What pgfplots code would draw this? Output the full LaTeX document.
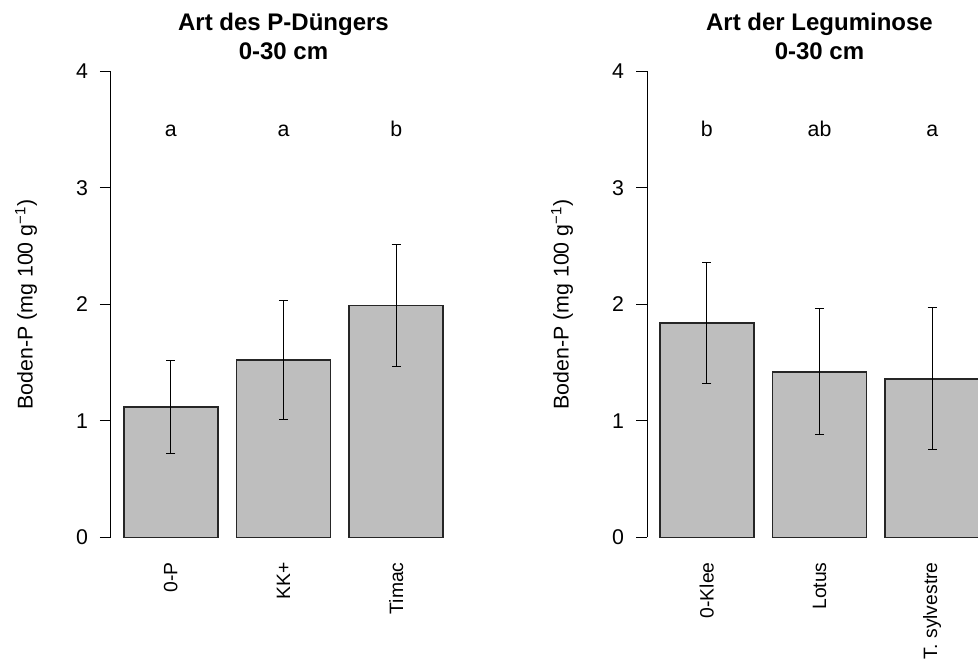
\documentclass[border=0pt]{standalone}
\usepackage{pgfplots}
\pgfplotsset{compat=1.18}
\usepackage{fontspec}
\setmainfont{Liberation Sans}
\definecolor{bargray}{RGB}{190,190,190}
\newcommand\lab{\fontsize{12.8}{15}\selectfont}

% one R-like barplot panel
\pgfplotsset{
  rpanel/.style={
    scale only axis, width=207pt, height=279.6pt,
    anchor=south west,
    xmin=0.064, xmax=3.736, ymin=0, ymax=4,
    axis lines*=left, axis line style={-, line width=0.6pt},
    x axis line style={draw=none},
    xtick={0.7,1.9,3.1}, xtick style={draw=none},
    ytick={0,1,2,3,4}, ytick align=outside, major tick length=6.6pt,
    ytick style={black, line width=0.6pt},
    tick label style={font=\lab},
    xticklabel style={rotate=90, anchor=east, inner sep=0pt,
      font=\fontsize{11.6}{14}\selectfont},
    xticklabel shift=14.8pt,
    yticklabel style={anchor=east, inner sep=0pt, xshift=-7pt},
    /pgf/number format/assume math mode=true,
    ylabel={Boden-P (mg 100 g\textsuperscript{\char"2212 1})},
    every axis y label/.style={at={([xshift=-51pt]axis description cs:0,0.5)},
      rotate=90, anchor=center, font=\lab},
    title style={font=\bfseries\fontsize{14.4}{17.4}\selectfont, align=center,
      at={(axis description cs:0.5,1)}, anchor=south, yshift=0.8pt, inner sep=0pt},
  },
  rbars/.style={
    ybar, bar width=1, fill=bargray, draw=black!85, line width=1pt,
    error bars/.cd, y dir=both, y explicit,
    error bar style={black, line width=0.6pt},
    error mark options={rotate=90, black, mark size=2.8pt, line width=0.6pt},
  },
}
\tikzset{letter/.style={font=\lab, anchor=base, yshift=-4.4pt}}

\begin{document}
\begin{tikzpicture}
\useasboundingbox (0,0) rectangle (586.8pt,397.2pt);
\clip (0,0) rectangle (586.8pt,397.2pt);

\begin{axis}[rpanel, at={(66.6pt,74.8pt)},
    title={Art des P-Düngers\\0-30 cm},
    xticklabels={0-P,KK+,Timac}]
\addplot[rbars] coordinates {(0.7,1.12) +- (0,0.40) (1.9,1.52) +- (0,0.51) (3.1,1.99) +- (0,0.52)};
\node[letter] at (axis cs:0.7,3.5) {a};
\node[letter] at (axis cs:1.9,3.5) {a};
\node[letter] at (axis cs:3.1,3.5) {b};
\end{axis}

\begin{axis}[rpanel, at={(388.2pt,74.8pt)},
    title={Art der Leguminose\\0-30 cm},
    xticklabels={0-Klee,Lotus,T. sylvestre}]
\addplot[rbars] coordinates {(0.7,1.84) +- (0,0.52) (1.9,1.42) +- (0,0.54) (3.1,1.36) +- (0,0.61)};
\node[letter] at (axis cs:0.7,3.5) {b};
\node[letter] at (axis cs:1.9,3.5) {ab};
\node[letter] at (axis cs:3.1,3.5) {a};
\end{axis}
\end{tikzpicture}
\end{document}
